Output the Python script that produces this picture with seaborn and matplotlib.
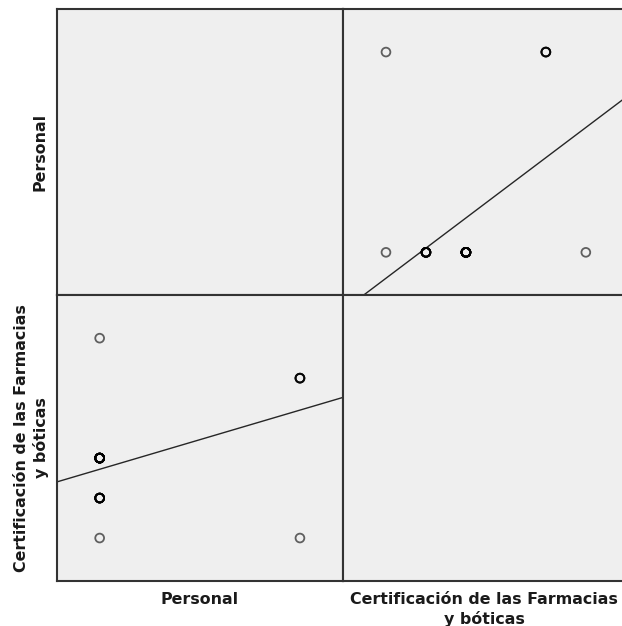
import numpy as np
import pandas as pd
import matplotlib
matplotlib.use("Agg")
import matplotlib.pyplot as plt
import seaborn as sns

# Observed value combinations and how many cases share each one
personal_vals = [1, 1, 1, 1, 2, 2]
cert_vals = [1, 2, 3, 6, 1, 5]
case_counts = [1, 8, 15, 1, 1, 4]

personal_label = "Personal"
cert_label_lines = ["Certificación de las Farmacias", "y bóticas"]

df = pd.DataFrame({
    "Personal": np.repeat(personal_vals, case_counts),
    "Cert": np.repeat(cert_vals, case_counts),
})
variables = ["Personal", "Cert"]
limits = {"Personal": (0.787, 2.215), "Cert": (-0.075, 7.08)}

sns.set_theme(style="white")
plt.rcParams["font.family"] = ["DejaVu Sans"]

W, H = 622, 626
g = sns.PairGrid(df, vars=variables, despine=False, height=3)
fig = g.figure
fig.set_size_inches(W / 100, H / 100)
fig.set_dpi(100)
fig.patch.set_facecolor("white")

for i, yv in enumerate(variables):
    for j, xv in enumerate(variables):
        ax = g.axes[i, j]
        ax.set_xlim(limits[xv])
        ax.set_ylim(limits[yv])

g.map_offdiag(
    sns.regplot,
    ci=None,
    truncate=False,
    color="#222222",
    scatter_kws=dict(s=40, facecolors="none", edgecolors="#000000",
                     linewidths=1.3, alpha=0.6, zorder=3),
    line_kws=dict(lw=1.0, color="#262626", zorder=2),
)

# panel grid in pixel coordinates: left/top edges and panel size
x0, y0, size = 57, 9, 286
for i, yv in enumerate(variables):
    for j, xv in enumerate(variables):
        ax = g.axes[i, j]
        ax.set_xlim(limits[xv])
        ax.set_ylim(limits[yv])
        ax.set_xlabel("")
        ax.set_ylabel("")
        ax.set_xticks([])
        ax.set_yticks([])
        ax.set_facecolor("#efefef")
        for sp in ax.spines.values():
            sp.set_visible(True)
            sp.set_color("#333333")
            sp.set_linewidth(1.5)
        left = (x0 + j * size) / W
        bottom = 1 - (y0 + (i + 1) * size) / H
        ax.set_position([left, bottom, size / W, size / H])

txt = dict(fontsize=11.4, fontweight="bold", color="#1a1a1a")

# column titles under the matrix
fig.text(200 / W, 1 - 604 / H, personal_label, ha="center", va="baseline", **txt)
fig.text(484 / W, 1 - 604 / H, cert_label_lines[0], ha="center", va="baseline", **txt)
fig.text(484 / W, 1 - 624 / H, cert_label_lines[1], ha="center", va="baseline", **txt)

# row titles on the left
rot = dict(rotation=90, rotation_mode="anchor", ha="center", va="baseline")
fig.text(45 / W, 1 - 152 / H, personal_label, **rot, **txt)
fig.text(26 / W, 1 - 438 / H, cert_label_lines[0], **rot, **txt)
fig.text(46 / W, 1 - 438 / H, cert_label_lines[1], **rot, **txt)

fig.savefig("out.png", dpi=100, facecolor="white")
